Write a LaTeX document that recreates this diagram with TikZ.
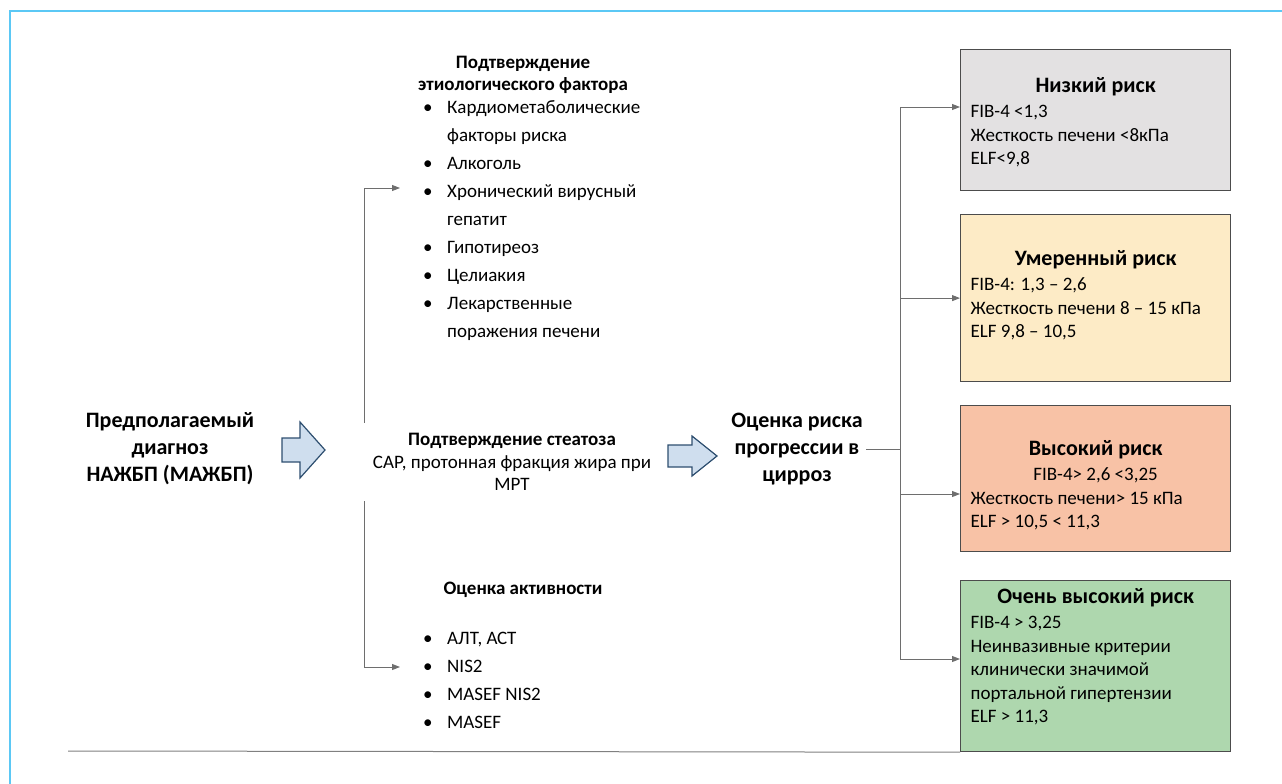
\documentclass[tikz,border=0pt]{standalone}
\usepackage{fontspec}
\setmainfont{Carlito}
\usetikzlibrary{arrows.meta,positioning}
\definecolor{framecol}{HTML}{5BC8F5}
\definecolor{linecol}{HTML}{6E6E6E}
\definecolor{arrowfill}{HTML}{CFDEEE}
\definecolor{arrowdraw}{HTML}{2E4F70}
\definecolor{lowcol}{HTML}{E3E1E2}
\definecolor{midcol}{HTML}{FDEBC6}
\definecolor{highcol}{HTML}{F8C2A6}
\definecolor{vhighcol}{HTML}{AED7AE}
\newcommand{\bigfont}{\fontsize{22}{27}\selectfont\bfseries}
\newcommand{\txtfont}[1]{\fontsize{19}{#1}\selectfont}
\newcommand{\bul}{\makebox[24pt][l]{\textbullet}}
\newcommand{\ind}{\hspace*{24pt}}
\newcommand{\boxtitle}[1]{{\centering\bigfont #1\par}\vspace{2pt}}
\tikzset{
  conn/.style={draw=linecol,line width=0.9pt},
  arr/.style={conn,-{Triangle[length=8pt,width=6pt]}},
  blockarrow/.style={draw=arrowdraw,fill=arrowfill,line width=1.2pt,line join=miter},
  riskbox/.style={draw=black!70,line width=1.2pt,minimum width=270pt,anchor=north west},
  risktext/.style={text width=250pt,inner sep=0pt,align=flush left,font=\txtfont{23.5},anchor=north},
}
\begin{document}
\begin{tikzpicture}[x=1pt,y=-1pt]
  \useasboundingbox (0,0) rectangle (1282,784);
  \draw[framecol,line width=2pt] (10,784) -- (10,11) -- (1282,11);

  \node[align=center,font=\bigfont] (diag) at (170,449) {Предполагаемый\\диагноз\\НАЖБП (МАЖБП)};
  \draw[blockarrow,shift={(282,450)}] (0,-12) -- (18,-12) -- (18,-28) -- (43,0) -- (18,28) -- (18,12) -- (0,12) -- cycle;

  \node[font=\txtfont{22}\bfseries,align=center] (etiotitle) at (523,75) {Подтверждение\\этиологического фактора};
  \node[font=\txtfont{28},align=left,anchor=west,inner sep=0pt] (etiolist) at (423,221) {\bul Кардиометаболические\\
    \ind факторы риска\\
    \bul Алкоголь\\
    \bul Хронический вирусный\\
    \ind гепатит\\
    \bul Гипотиреоз\\
    \bul Целиакия\\
    \bul Лекарственные\\
    \ind поражения печени};

  \node[font=\txtfont{22}\bfseries] (acttitle) at (523,590) {Оценка активности};
  \node[font=\txtfont{28},align=left,anchor=west,inner sep=0pt] (actlist) at (423,680) {\bul АЛТ, АСТ\\
    \bul NIS2\\
    \bul MASEF NIS2\\
    \bul MASEF};

  \coordinate (split) at (364,188);
  \coordinate (etioin) at (400,188);
  \coordinate (actin) at (400,667);
  \draw[arr] (split) -- (etioin);
  \draw[arr] (split) |- (actin);

  \node[fill=white,align=center,font=\txtfont{22.5},inner ysep=10pt,minimum width=330pt] (steat) at (512,462) {{\bfseries Подтверждение стеатоза}\\САР, протонная фракция жира при\\МРТ};

  \draw[blockarrow,shift={(668,456)}] (0,-11) -- (24,-11) -- (24,-20) -- (49,0) -- (24,20) -- (24,11) -- (0,11) -- cycle;
  \node[align=center,font=\bigfont] (risk) at (797,449) {Оценка риска\\прогрессии в\\цирроз};

  \node[riskbox,fill=lowcol,minimum height=141pt] (low) at (960,49) {};
  \node[risktext,below=28pt of low.north] (lowtext) {\boxtitle{Низкий риск}
    FIB-4 <1,3\\Жесткость печени <8кПа\\ELF<9,8};
  \node[riskbox,fill=midcol,minimum height=167pt] (moderate) at (960,214) {};
  \node[risktext,below=36pt of moderate.north] (moderatetext) {\boxtitle{Умеренный риск}
    FIB-4: 1,3 – 2,6\\Жесткость печени 8 – 15 кПа\\ELF 9,8 – 10,5};
  \node[riskbox,fill=highcol,minimum height=146pt] (high) at (960,405) {};
  \node[risktext,below=35pt of high.north] (hightext) {\boxtitle{Высокий риск}
    {\centering FIB-4> 2,6 <3,25\par}
    Жесткость печени> 15 кПа\\ELF > 10,5 < 11,3};
  \node[riskbox,fill=vhighcol,minimum height=171pt] (veryhigh) at (960,580) {};
  \node[risktext,below=8pt of veryhigh.north] (veryhightext) {\boxtitle{Очень высокий риск}
    FIB-4 > 3,25\\Неинвазивные критерии\\клинически значимой\\портальной гипертензии\\ELF > 11,3};

  \coordinate (bustop) at (900,107);
  \coordinate (busbot) at (900,659);
  \draw[conn] (bustop) -- (busbot);
  \draw[conn] (risk.east) -- (risk.east -| bustop);
  \draw[arr] (bustop) -- (low.west |- bustop);
  \draw[arr] (bustop |- moderate.west) -- (moderate.west);
  \draw[arr] (bustop |- 0,494) -- (high.west |- 0,494);
  \draw[arr] (busbot) -- (veryhigh.west |- busbot);

  \coordinate (baseleft) at (68,751);
  \draw[draw=black!50,line width=1pt] (baseleft) -- (veryhigh.south west);
\end{tikzpicture}
\end{document}
